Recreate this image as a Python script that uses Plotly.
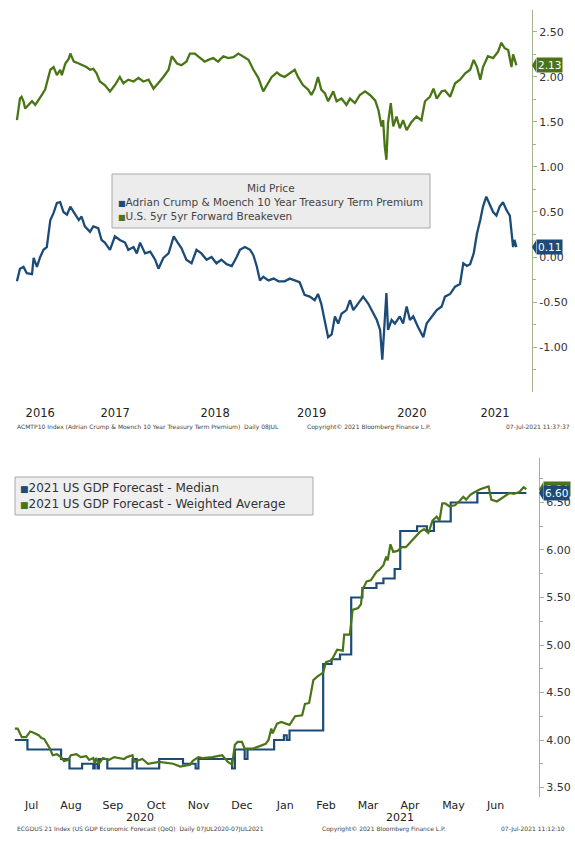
import plotly.graph_objects as go

BLUE = "#1d4b78"
GREEN = "#4a7516"
AXIS = "#a3b58a"
TXT = "#333333"
FONT = "DejaVu Sans"

# ---- top panel: ACM 10y term premium vs 5y5y breakeven (weekly-ish reads) ----
be_dates = [
    "2016-07-08", "2016-07-13", "2016-07-19", "2016-07-25", "2016-08-01", "2016-08-07", "2016-08-19",
    "2016-09-01", "2016-09-13", "2016-09-25", "2016-10-07", "2016-10-19", "2016-10-25", "2016-11-07",
    "2016-11-19", "2016-12-01", "2016-12-13", "2016-12-19",
    "2017-01-01", "2017-01-13", "2017-01-19", "2017-02-01", "2017-02-19", "2017-03-07", "2017-03-19",
    "2017-04-01", "2017-04-13", "2017-04-25", "2017-05-07", "2017-05-25", "2017-06-13", "2017-07-01",
    "2017-07-19", "2017-08-01", "2017-08-19", "2017-09-07", "2017-09-25", "2017-10-13", "2017-11-01",
    "2017-11-19", "2017-12-07", "2017-12-25",
    "2018-01-13", "2018-01-25", "2018-02-13", "2018-03-01", "2018-03-19", "2018-04-01", "2018-04-19",
    "2018-05-07", "2018-05-25", "2018-06-07", "2018-06-25", "2018-07-13", "2018-08-01", "2018-08-19",
    "2018-09-07", "2018-09-25", "2018-10-13", "2018-11-01", "2018-11-19", "2018-12-07", "2018-12-25",
    "2019-01-07", "2019-01-25", "2019-02-13", "2019-02-25", "2019-03-13", "2019-04-01", "2019-04-19",
    "2019-05-01", "2019-05-19", "2019-06-07", "2019-06-19", "2019-07-01", "2019-07-13", "2019-07-25",
    "2019-08-07", "2019-08-19", "2019-09-07", "2019-09-19", "2019-10-07", "2019-10-25", "2019-11-07",
    "2019-11-25", "2019-12-13",
    "2020-01-01", "2020-01-19", "2020-02-07", "2020-02-19", "2020-03-01", "2020-03-07", "2020-03-13",
    "2020-03-19", "2020-03-25", "2020-04-04", "2020-04-13", "2020-04-25", "2020-05-07", "2020-05-19",
    "2020-06-01", "2020-06-19", "2020-07-07", "2020-07-25", "2020-08-07", "2020-08-25", "2020-09-07",
    "2020-09-19", "2020-10-07", "2020-10-19", "2020-11-07", "2020-11-25", "2020-12-13",
    "2021-01-01", "2021-01-19", "2021-02-01", "2021-02-13", "2021-02-25", "2021-03-07", "2021-03-25",
    "2021-04-13", "2021-05-01", "2021-05-13", "2021-05-25", "2021-06-07", "2021-06-19", "2021-06-25",
    "2021-07-07",
]
be_vals = [
    1.52, 1.65, 1.76, 1.78, 1.73, 1.65, 1.69,
    1.73, 1.69, 1.74, 1.80, 1.86, 1.93, 2.08,
    2.11, 2.02, 2.08, 2.02,
    2.15, 2.20, 2.26, 2.17, 2.15, 2.13, 2.11,
    2.08, 2.09, 2.04, 1.95, 1.91, 1.84, 1.91,
    2.00, 1.93, 1.97, 1.95, 1.99, 1.95, 1.97,
    1.87, 1.93, 2.00,
    2.08, 2.23, 2.15, 2.13, 2.17, 2.26, 2.26,
    2.21, 2.17, 2.19, 2.21, 2.17, 2.23, 2.21,
    2.22, 2.26, 2.23, 2.19, 2.08, 1.99, 1.84,
    1.91, 2.00, 2.05, 2.02, 2.00, 2.04, 2.08,
    2.00, 1.91, 1.86, 1.80, 1.87, 2.00, 1.86,
    1.82, 1.73, 1.84, 1.73, 1.76, 1.69, 1.76,
    1.71, 1.80,
    1.84, 1.80, 1.74, 1.63, 1.45, 1.52, 1.23,
    1.08, 1.49, 1.71, 1.45, 1.56, 1.43, 1.52,
    1.41, 1.50, 1.56, 1.52, 1.73, 1.78, 1.87,
    1.76, 1.84, 1.85, 1.78, 1.93, 1.97,
    2.04, 2.08, 2.19, 2.11, 1.97, 2.11, 2.23,
    2.21, 2.28, 2.38, 2.32, 2.30, 2.11, 2.25,
    2.13,
]

tp_dates = [
    "2016-07-08", "2016-07-19", "2016-08-01", "2016-08-13", "2016-09-01", "2016-09-07", "2016-09-19",
    "2016-10-01", "2016-10-13", "2016-10-25", "2016-11-07", "2016-11-19", "2016-12-01", "2016-12-13",
    "2016-12-25",
    "2017-01-07", "2017-01-19", "2017-02-01", "2017-02-19", "2017-03-01", "2017-03-13", "2017-04-01",
    "2017-04-13", "2017-05-01", "2017-05-13", "2017-05-25", "2017-06-13", "2017-07-01", "2017-07-19",
    "2017-08-07", "2017-08-19", "2017-09-07", "2017-09-19", "2017-10-01", "2017-10-19", "2017-11-07",
    "2017-11-25", "2017-12-07", "2017-12-25",
    "2018-01-13", "2018-02-01", "2018-02-13", "2018-03-01", "2018-03-19", "2018-04-07", "2018-04-25",
    "2018-05-13", "2018-06-01", "2018-06-19", "2018-07-07", "2018-07-25", "2018-08-13", "2018-09-01",
    "2018-09-19", "2018-10-01", "2018-10-19", "2018-11-07", "2018-11-19", "2018-12-01", "2018-12-13",
    "2018-12-25",
    "2019-01-13", "2019-02-01", "2019-02-19", "2019-03-13", "2019-04-01", "2019-04-19", "2019-05-07",
    "2019-05-25", "2019-06-13", "2019-07-01", "2019-07-13", "2019-07-25", "2019-08-07", "2019-08-19",
    "2019-09-01", "2019-09-13", "2019-09-25", "2019-10-07", "2019-10-25", "2019-11-07", "2019-11-19",
    "2019-12-07", "2019-12-25",
    "2020-01-13", "2020-02-01", "2020-02-13", "2020-02-25", "2020-03-04", "2020-03-13", "2020-03-19",
    "2020-03-25", "2020-04-07", "2020-04-19", "2020-05-07", "2020-05-19", "2020-06-01", "2020-06-13",
    "2020-06-25", "2020-07-13", "2020-08-01", "2020-08-13", "2020-09-01", "2020-09-19", "2020-10-07",
    "2020-10-19", "2020-11-07", "2020-11-25", "2020-12-13", "2020-12-25",
    "2021-01-07", "2021-01-19", "2021-02-01", "2021-02-13", "2021-02-25", "2021-03-07", "2021-03-19",
    "2021-04-01", "2021-04-13", "2021-04-25", "2021-05-07", "2021-05-19", "2021-06-01", "2021-06-13",
    "2021-06-19", "2021-06-25", "2021-06-30", "2021-07-07",
]
tp_vals = [
    -0.27, -0.13, -0.11, -0.18, -0.19, -0.01, -0.11,
    0.00, 0.08, 0.11, 0.41, 0.49, 0.60, 0.61,
    0.50,
    0.47, 0.56, 0.49, 0.41, 0.45, 0.34, 0.28,
    0.34, 0.32, 0.19, 0.16, 0.08, 0.23, 0.19,
    0.16, 0.08, 0.11, 0.04, 0.16, 0.04, 0.06,
    -0.03, -0.13, -0.01,
    0.04, 0.23, 0.17, 0.10, -0.03, -0.07, 0.08,
    0.04, -0.03, 0.00, -0.07, -0.03, -0.08, -0.10,
    0.00, 0.08, 0.11, 0.08, 0.02, -0.10, -0.26,
    -0.22,
    -0.26, -0.24, -0.27, -0.27, -0.24, -0.26, -0.28,
    -0.42, -0.44, -0.48, -0.41, -0.52, -0.70, -0.89,
    -0.86, -0.66, -0.74, -0.63, -0.59, -0.48, -0.59,
    -0.52, -0.44,
    -0.52, -0.63, -0.70, -0.81, -1.14, -0.70, -0.40,
    -0.81, -0.70, -0.74, -0.66, -0.74, -0.55, -0.70,
    -0.66, -0.78, -0.89, -0.74, -0.66, -0.59, -0.55,
    -0.44, -0.41, -0.33, -0.30, -0.07,
    -0.10, -0.08, 0.04, 0.26, 0.41, 0.56, 0.67,
    0.58, 0.50, 0.46, 0.56, 0.61, 0.52, 0.46,
    0.26, 0.11, 0.19, 0.11,
]

top_year_ticks = ["2016-10-01", "2017-07-02", "2018-07-02", "2019-06-20", "2020-06-20", "2021-04-20"]
top_year_labels = ["2016", "2017", "2018", "2019", "2020", "2021"]
top_y_ticks = [-1.0, -0.5, 0.0, 0.5, 1.0, 1.5, 2.0, 2.5]
top_y_labels = ["-1.00", "-0.50", "0.00", "0.50", "1.00", "1.50", "2.00", "2.50"]

# ---- bottom panel: 2021 US GDP forecast ----
med_dates = [
    "2020-07-07", "2020-07-16", "2020-08-09", "2020-08-15", "2020-08-24", "2020-09-01", "2020-09-02",
    "2020-09-04", "2020-09-05", "2020-09-11", "2020-09-29", "2020-10-02", "2020-10-18", "2020-11-04",
    "2020-11-13", "2020-11-15", "2020-12-09", "2020-12-11", "2020-12-18", "2020-12-20",
    "2021-01-08", "2021-01-15", "2021-01-17", "2021-01-19", "2021-02-12", "2021-02-18", "2021-02-24",
    "2021-03-04", "2021-03-12", "2021-03-22", "2021-03-27", "2021-04-04", "2021-04-08", "2021-04-20",
    "2021-04-27", "2021-05-02", "2021-05-14", "2021-06-02", "2021-07-07",
]
med_vals = [
    4.00, 3.90, 3.80, 3.70, 3.75, 3.70, 3.75,
    3.70, 3.80, 3.70, 3.80, 3.70, 3.80, 3.75,
    3.70, 3.80, 3.70, 3.90, 3.80, 3.90,
    4.00, 4.05, 4.00, 4.10, 4.80, 4.85, 4.90,
    5.50, 5.60, 5.65, 5.70, 5.80, 6.20, 6.25,
    6.20, 6.30, 6.50, 6.60, 6.60,
]

wavg_dates = [
    "2020-07-07", "2020-07-09", "2020-07-12", "2020-07-15", "2020-07-18", "2020-07-20", "2020-07-24",
    "2020-07-26", "2020-07-28", "2020-08-01", "2020-08-03", "2020-08-06", "2020-08-09", "2020-08-11",
    "2020-08-14", "2020-08-16", "2020-08-20", "2020-08-23", "2020-08-27", "2020-08-29", "2020-09-01",
    "2020-09-02", "2020-09-03", "2020-09-05", "2020-09-08", "2020-09-12", "2020-09-16", "2020-09-23",
    "2020-09-25", "2020-09-29", "2020-09-30", "2020-10-06", "2020-10-10", "2020-10-18", "2020-10-28",
    "2020-11-02", "2020-11-09", "2020-11-11", "2020-11-15", "2020-11-18", "2020-11-25", "2020-12-02",
    "2020-12-06", "2020-12-09", "2020-12-11", "2020-12-13", "2020-12-16", "2020-12-18", "2020-12-24",
    "2021-01-02", "2021-01-04", "2021-01-06", "2021-01-07", "2021-01-10", "2021-01-13", "2021-01-19",
    "2021-01-23", "2021-01-28", "2021-01-30", "2021-02-02", "2021-02-05", "2021-02-08", "2021-02-12",
    "2021-02-14", "2021-02-18", "2021-02-22", "2021-02-26", "2021-02-27", "2021-03-03", "2021-03-05",
    "2021-03-09", "2021-03-11", "2021-03-12", "2021-03-15", "2021-03-18", "2021-03-22", "2021-03-24",
    "2021-03-27", "2021-03-29", "2021-03-30", "2021-04-01", "2021-04-03", "2021-04-06", "2021-04-09",
    "2021-04-12", "2021-04-15", "2021-04-18", "2021-04-22", "2021-04-25", "2021-04-28", "2021-04-29",
    "2021-05-01", "2021-05-04", "2021-05-06", "2021-05-08", "2021-05-10", "2021-05-13", "2021-05-17",
    "2021-05-20", "2021-05-23", "2021-05-25", "2021-05-28", "2021-05-30", "2021-06-04", "2021-06-10",
    "2021-06-12", "2021-06-16", "2021-06-21", "2021-06-25", "2021-06-28", "2021-07-02", "2021-07-05",
    "2021-07-07",
]
wavg_vals = [
    4.12, 4.12, 4.03, 4.03, 4.09, 4.08, 4.05,
    4.02, 4.01, 3.91, 3.84, 3.85, 3.82, 3.78,
    3.79, 3.84, 3.85, 3.82, 3.83, 3.79, 3.81,
    3.75, 3.81, 3.75, 3.81, 3.79, 3.82, 3.80,
    3.82, 3.84, 3.77, 3.80, 3.75, 3.77, 3.75,
    3.72, 3.74, 3.78, 3.82, 3.81, 3.82, 3.84,
    3.77, 3.74, 3.95, 3.98, 3.98, 3.91, 3.91,
    3.96, 4.00, 4.12, 4.07, 4.17, 4.19, 4.16,
    4.25, 4.26, 4.38, 4.39, 4.63, 4.67, 4.71,
    4.82, 4.84, 4.95, 4.94, 5.11, 5.11, 5.37,
    5.39, 5.43, 5.58, 5.67, 5.68, 5.77, 5.79,
    5.84, 5.93, 5.89, 6.06, 5.98, 5.99, 6.03,
    6.03, 6.08, 6.12, 6.19, 6.22, 6.18, 6.22,
    6.31, 6.35, 6.31, 6.49, 6.49, 6.46, 6.47,
    6.51, 6.56, 6.53, 6.58, 6.60, 6.64, 6.67,
    6.53, 6.51, 6.56, 6.60, 6.59, 6.61, 6.66,
    6.64,
]

month_ticks = ["2020-07-19", "2020-08-16", "2020-09-15", "2020-10-16", "2020-11-15", "2020-12-16",
               "2021-01-16", "2021-02-14", "2021-03-16", "2021-04-15", "2021-05-16", "2021-06-15"]
month_labels = ["Jul", "Aug", "Sep", "Oct", "Nov", "Dec", "Jan", "Feb", "Mar", "Apr", "May", "Jun"]

fig = go.Figure()
fig.add_trace(go.Scatter(x=tp_dates, y=tp_vals, mode="lines", line=dict(color=BLUE, width=2.3),
                         name="Adrian Crump & Moench 10 Year Treasury Term Premium", xaxis="x", yaxis="y"))
fig.add_trace(go.Scatter(x=be_dates, y=be_vals, mode="lines", line=dict(color=GREEN, width=2.3),
                         name="U.S. 5yr 5yr Forward Breakeven", xaxis="x", yaxis="y"))
fig.add_trace(go.Scatter(x=med_dates, y=med_vals, mode="lines", line=dict(color=BLUE, width=2.2, shape="hv"),
                         name="2021 US GDP Forecast - Median", xaxis="x2", yaxis="y2"))
fig.add_trace(go.Scatter(x=wavg_dates, y=wavg_vals, mode="lines", line=dict(color=GREEN, width=2.2),
                         name="2021 US GDP Forecast - Weighted Average", xaxis="x2", yaxis="y2"))

yax = dict(side="right", showline=True, linecolor=AXIS, linewidth=1, ticks="outside", ticklen=4,
           tickcolor=AXIS, showgrid=False, zeroline=False, tickfont=dict(family=FONT, size=11, color=TXT))
fig.update_layout(
    width=575, height=846, margin=dict(l=0, r=0, t=0, b=0),
    paper_bgcolor="white", plot_bgcolor="white", showlegend=False,
    font=dict(family=FONT, color=TXT),
    xaxis=dict(domain=[0.0209, 0.9252], type="date", range=["2016-06-20", "2021-09-02"],
               tickvals=top_year_ticks, ticktext=top_year_labels, ticks="", showgrid=False,
               zeroline=False, ticklabelstandoff=12, tickfont=dict(family=FONT, size=11.5, color="#222"),
               anchor="y"),
    yaxis=dict(domain=[0.5366, 0.9882], range=[-1.5, 2.744], tickvals=top_y_ticks, ticktext=top_y_labels,
               minor=dict(tickvals=[-1.25, -0.75, -0.25, 0.25, 0.75, 1.25, 1.75, 2.25],
                          ticks="outside", ticklen=3, tickcolor=AXIS),
               anchor="x", **yax),
    xaxis2=dict(domain=[0.0209, 0.9374], type="date", range=["2020-07-05", "2021-07-16"],
                tickvals=month_ticks, ticktext=month_labels, ticks="", showgrid=False, zeroline=False,
                ticklabelstandoff=0, tickfont=dict(family=FONT, size=11, color="#222"), anchor="y2"),
    yaxis2=dict(domain=[0.0579, 0.4586], range=[3.40, 6.968], tick0=3.5, dtick=0.5, tickformat=".2f",
                minor=dict(dtick=0.25, tick0=3.5, ticks="outside", ticklen=3, tickcolor=AXIS),
                anchor="x2", **yax),
)

# legends drawn as boxes with text, Bloomberg style
fig.add_shape(type="rect", xref="paper", yref="paper", x0=112 / 575, x1=430 / 575,
              y0=1 - 228 / 846, y1=1 - 174 / 846, fillcolor="#ececec", line=dict(color="#a8a8a8", width=1))
fig.add_annotation(xref="paper", yref="paper", x=271 / 575, y=1 - 188 / 846, yanchor="middle",
                   text="Mid Price", showarrow=False, font=dict(family=FONT, size=10.5, color="#444"))
sq = "<span style='font-size:8px;color:{}'>■</span>"
fig.add_annotation(xref="paper", yref="paper", x=116 / 575, y=1 - 194 / 846, xanchor="left",
                   yanchor="top", align="left", showarrow=False,
                   font=dict(family=FONT, size=10.5, color="#444"),
                   text=sq.format(BLUE) + "Adrian Crump & Moench 10 Year Treasury Term Premium<br>"
                   + sq.format(GREEN) + "U.S. 5yr 5yr Forward Breakeven")

fig.add_shape(type="rect", xref="paper", yref="paper", x0=15 / 575, x1=313 / 575,
              y0=1 - 515 / 846, y1=1 - 477 / 846, fillcolor="#efefef", line=dict(color="#a8a8a8", width=1))
sq2 = "<span style='font-size:9px;color:{}'>■</span>"
fig.add_annotation(xref="paper", yref="paper", x=18 / 575, y=1 - 496 / 846, xanchor="left",
                   yanchor="middle", align="left", showarrow=False,
                   font=dict(family=FONT, size=12, color="#333"),
                   text=sq2.format(BLUE) + "2021 US GDP Forecast - Median<br>"
                   + sq2.format(GREEN) + "2021 US GDP Forecast - Weighted Average")


def tag(val, yref, color, ax_x, box_x, half):
    fig.add_shape(type="path", xref="paper", yref=yref, fillcolor=color, line=dict(width=0),
                  path=f"M {ax_x},{val} L {box_x},{val + half} L {box_x},{val - half} Z")
    fig.add_annotation(xref="paper", yref=yref, x=box_x, y=val, xanchor="left", yanchor="middle",
                       text=f"{val:.2f}", showarrow=False, bgcolor=color, borderpad=1,
                       font=dict(family=FONT, size=10.5, color="white"))


tag(be_vals[-1], "y", GREEN, 0.9252, 536 / 575, 0.075)
tag(tp_vals[-1], "y", BLUE, 0.9252, 536 / 575, 0.075)
tag(wavg_vals[-1], "y2", GREEN, 0.9374, 543 / 575, 0.07)
tag(med_vals[-1], "y2", BLUE, 0.9374, 543 / 575, 0.07)

# year labels under the month axis
for yr_x, yr in [("2020-10-04", "2020"), ("2021-04-08", "2021")]:
    fig.add_annotation(xref="x2", yref="paper", x=yr_x, y=1 - 817 / 846, yanchor="middle", text=yr,
                       showarrow=False, font=dict(family=FONT, size=11, color="#222"))

# footers
foot = dict(family=FONT, size=6, color="#444")
footers = [
    (15, 427, "left", "ACMTP10 Index (Adrian Crump & Moench 10 Year Treasury Term Premium)  Daily 08JUL"),
    (305, 427, "left", "Copyright© 2021 Bloomberg Finance L.P."),
    (572, 427, "right", "07-Jul-2021 11:37:37"),
    (15, 829, "left", "ECGDUS 21 Index (US GDP Economic Forecast (QoQ)  Daily 07JUL2020-07JUL2021"),
    (320, 829, "left", "Copyright© 2021 Bloomberg Finance L.P."),
    (567, 829, "right", "07-Jul-2021 11:12:10"),
]
for fx, fy, anchor, txt in footers:
    fig.add_annotation(xref="paper", yref="paper", x=fx / 575, y=1 - fy / 846, xanchor=anchor,
                       yanchor="middle", text=txt, showarrow=False, font=foot)

fig.write_html("out.html", config={"displayModeBar": False},
               post_script="document.body.style.margin='0';document.body.style.overflow='hidden';")
